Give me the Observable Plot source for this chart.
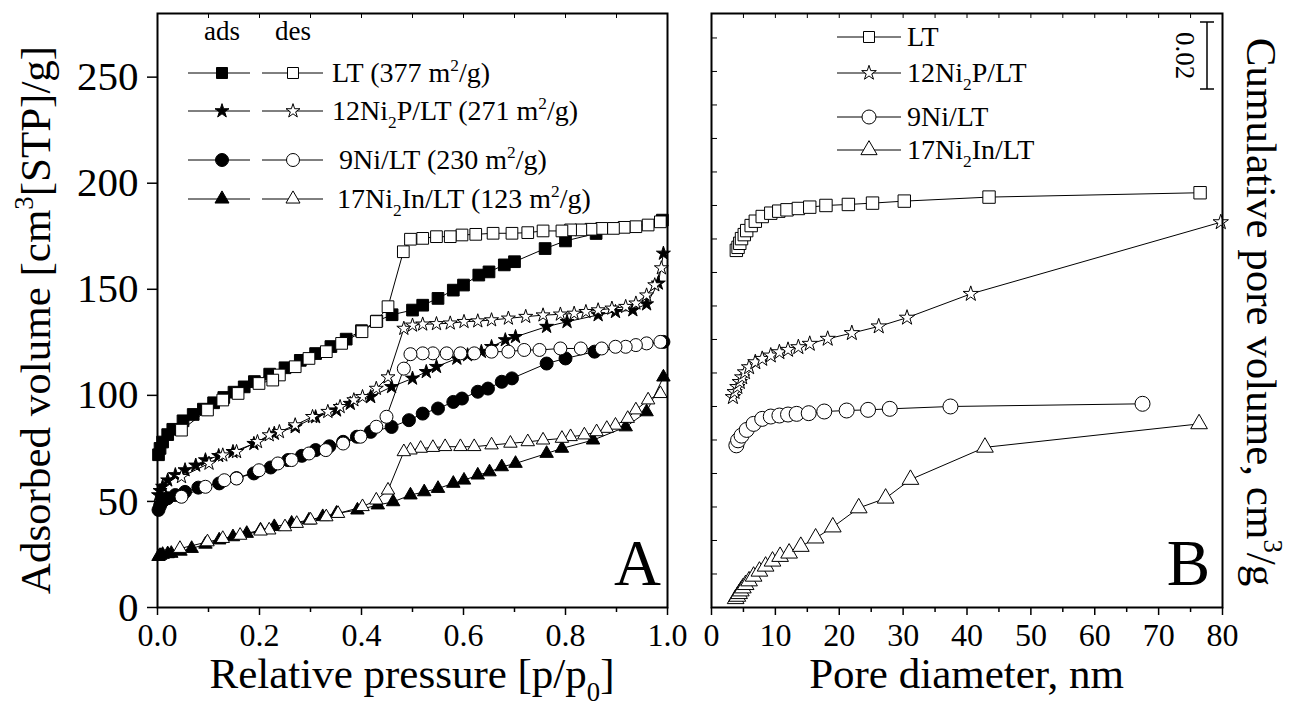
<!DOCTYPE html>
<html><head><meta charset="utf-8">
<script src="https://cdn.jsdelivr.net/npm/d3@7"></script>
<script src="https://cdn.jsdelivr.net/npm/@observablehq/plot@0.6"></script>
<style>
body{margin:0;background:#fff;}
#wrap{position:relative;width:1290px;height:706px;overflow:hidden;}
#wrap > svg{position:absolute;top:0;}
</style></head><body><div id="wrap"></div>
<script>
// ---------- Panel A: N2 isotherms (p/p0, cm3[STP]/g) ----------
const ltAdsP = [0.002,0.005,0.01,0.02,0.03,0.05,0.07,0.09,0.11,0.13,0.15,0.17,0.19,0.22,0.25,0.28,0.31,0.34,0.37,0.40,0.43,0.46,0.50,0.52,0.55,0.58,0.60,0.63,0.65,0.68,0.70,0.76,0.80,0.86,0.99];
const ltAdsV = [72,75,78,81.5,84,88,91,93.5,96.5,99,101.5,104,106.5,110,113,116.5,119.7,123,126.5,130.5,135,138,140.2,142.5,145.7,149.6,152,156.7,158.2,161.5,163,169.2,172.8,176.3,182.6];
const ltDesP = [0.986,0.962,0.938,0.915,0.894,0.871,0.850,0.830,0.810,0.793,0.756,0.726,0.695,0.658,0.624,0.597,0.574,0.547,0.520,0.496,0.482,0.452,0.429,0.401,0.361,0.331,0.297,0.270,0.239,0.226,0.199,0.158,0.128,0.098,0.047];
const ltDesV = [181.8,180.3,179.5,179.2,178.7,178.7,178.3,178,178,177.5,177.5,176.7,176.4,176.4,175.9,175.6,174.8,174.8,174,173.6,167.7,141.8,134.8,130,124.5,120.6,117.4,113.5,109.6,107.2,105.6,100.9,97.8,93.1,83.6];

const nipAdsP = [0.002,0.005,0.01,0.02,0.035,0.054,0.075,0.094,0.12,0.148,0.189,0.229,0.270,0.310,0.351,0.378,0.418,0.459,0.500,0.527,0.547,0.587,0.608,0.635,0.655,0.682,0.702,0.763,0.803,0.864,0.898,0.932,0.959,0.982,0.992];
const nipAdsV = [53,55,57,60,62.5,64.8,67,69.5,71.5,73.4,77.2,82,85.1,89.8,93,96.1,99.3,104,108,111.1,113.5,117.4,119,120.6,122.9,126.1,127.6,132.4,134.7,137.9,139.4,140.2,143,152.8,166.9];
const nipDesP = [0.988,0.975,0.959,0.938,0.918,0.891,0.864,0.840,0.817,0.790,0.756,0.722,0.688,0.655,0.628,0.601,0.574,0.547,0.520,0.500,0.483,0.452,0.429,0.402,0.385,0.358,0.334,0.304,0.270,0.239,0.219,0.196,0.155,0.128,0.101,0.047];
const nipDesV = [160,152,147.2,143.4,141.8,141,140.2,139.4,138.6,138.2,137.8,137.1,136.3,135.5,135,134.7,134,133.7,133.5,133,131.5,108.6,103.2,99.3,97.8,94.6,92.3,89.9,86,82.8,81.3,78.1,73.4,71.8,67.9,61.6];

const niAdsP = [0.002,0.005,0.01,0.02,0.035,0.054,0.08,0.121,0.155,0.189,0.222,0.256,0.283,0.310,0.337,0.364,0.391,0.418,0.459,0.493,0.520,0.550,0.580,0.597,0.628,0.648,0.675,0.695,0.763,0.800,0.857,0.992];
const niAdsV = [46,48,50,51.5,53,54.5,56.5,58.5,61,63.2,66,69.5,71.5,74.2,76,78.1,80.5,82.8,85.1,88.3,91.4,93.8,96.9,98.5,101.7,103.2,106.4,108,115,117.4,120.6,125.2];
const niDesP = [0.986,0.959,0.938,0.918,0.898,0.871,0.830,0.790,0.749,0.719,0.688,0.655,0.621,0.594,0.567,0.540,0.520,0.496,0.483,0.449,0.429,0.398,0.364,0.330,0.297,0.263,0.236,0.199,0.155,0.131,0.094,0.047];
const niDesV = [125.2,124.5,123.7,122.9,122.9,122.1,122.1,122.1,121.4,121.4,120.6,120.6,119.8,119.8,119.8,119.8,119.8,119.4,112.6,89.9,85.2,80.5,77.3,74.2,72.6,69.5,67.9,64.7,60.8,60,56.9,52.2];

const inAdsP = [0.002,0.005,0.01,0.02,0.027,0.045,0.067,0.094,0.121,0.148,0.175,0.202,0.229,0.263,0.297,0.324,0.351,0.392,0.432,0.462,0.496,0.523,0.550,0.580,0.601,0.628,0.651,0.675,0.702,0.763,0.793,0.854,0.918,0.959,0.992];
const inAdsV = [24,24.5,25,25.3,25.5,26.5,27.8,29.8,31.8,33.3,34.9,36.5,38.1,39.7,41.2,42.8,44.4,45.9,48.3,49.8,53,54.5,56.1,58.5,60,62.4,63.9,66.3,67.9,72.6,75,78.9,85.1,92.2,108.6];
const inDesP = [0.986,0.962,0.938,0.922,0.898,0.881,0.861,0.837,0.810,0.793,0.756,0.726,0.692,0.655,0.621,0.594,0.564,0.540,0.516,0.496,0.483,0.452,0.429,0.402,0.354,0.331,0.300,0.273,0.250,0.219,0.202,0.162,0.128,0.098,0.044];
const inDesV = [100.8,97.8,93.1,89.1,85.9,84.4,82.8,81.3,80.5,79.7,78.9,78.1,77.4,76.6,75.8,75.8,75.8,75.4,75,74.2,73.4,55.3,50.6,47.5,44.3,42.7,41.2,39.6,38,36.5,36,34,32.5,30.9,27.8];

// ---------- Panel B: cumulative pore volume (nm, cm3/g, curves offset) ----------
const ltPoreD = [3.89,4.16,4.43,4.70,5.13,5.51,6.21,6.86,7.94,9.28,10.53,11.82,13.60,15.38,17.92,21.43,25.21,30.18,43.45,76.49];
const ltPoreV = [0.1066,0.1075,0.1087,0.1101,0.1113,0.1125,0.1140,0.1153,0.1167,0.1177,0.1183,0.1187,0.1191,0.1195,0.1200,0.1203,0.1207,0.1213,0.1225,0.1238];
const nipPoreD = [3.35,3.62,4.05,4.43,4.80,5.24,5.88,6.86,7.94,9.28,10.63,11.98,13.60,15.38,18.19,21.97,26.18,30.61,40.59,79.73];
const nipPoreV = [0.0628,0.0643,0.0658,0.0673,0.0687,0.0702,0.0717,0.0732,0.0742,0.0752,0.0762,0.0769,0.0777,0.0787,0.0802,0.0819,0.0839,0.0865,0.0936,0.1150];
const niPoreD = [3.89,4.16,4.70,5.51,6.59,7.94,9.28,10.63,11.98,13.33,15.22,17.65,21.16,24.51,27.91,37.41,67.48];
const niPoreV = [0.0484,0.0499,0.0513,0.0530,0.0548,0.0563,0.0570,0.0573,0.0576,0.0578,0.0580,0.0585,0.0588,0.0590,0.0593,0.0600,0.0608];
const inPoreD = [3.78,4.05,4.32,4.59,4.91,5.34,5.88,6.59,7.50,8.47,9.55,10.74,12.15,13.98,16.30,18.99,23.05,27.26,31.15,42.81,76.33];
const inPoreV = [0.0026,0.0033,0.0041,0.0049,0.0058,0.0068,0.0079,0.0093,0.0108,0.0123,0.0138,0.0152,0.0162,0.0182,0.0207,0.0240,0.0297,0.0326,0.0382,0.0478,0.0548];

// ---------- ticks and labels ----------
const xTicksA = [0, 0.2, 0.4, 0.6, 0.8, 1.0];
const xMinorA = [0.1, 0.3, 0.5, 0.7, 0.9];
const yTicksA = [0, 50, 100, 150, 200, 250];
const xTicksB = [0, 10, 20, 30, 40, 50, 60, 70, 80];
const xMinorB = [5, 15, 25, 35, 45, 55, 65, 75];
const yTicksB = [0.01,0.02,0.03,0.04,0.05,0.06,0.07,0.08,0.09,0.10,0.11,0.12,0.13,0.14,0.15,0.16,0.17];
const scaleBarValue = 0.02;
const legendNamesA = ["LT (377 m^{2}/g)", "12Ni_{2}P/LT (271 m^{2}/g)", "9Ni/LT (230 m^{2}/g)", "17Ni_{2}In/LT (123 m^{2}/g)"];
const legendNamesB = ["LT", "12Ni_{2}P/LT", "9Ni/LT", "17Ni_{2}In/LT"];
const symbolsList = ["square", "star", "circle", "triangle"];
const titleXA = "Relative pressure [p/p_{0}]";
const titleYA = "Adsorbed volume [cm^{3}[STP]/g]";
const titleXB = "Pore diameter, nm";
const titleYB = "Cumulative pore volume, cm^{3}/g";

// ---------- build ----------
const FONT = "'Liberation Serif', 'Times New Roman', Tinos, serif";
const tbl = (xs, ys) => xs.map((x, i) => ({x, y: ys[i]}));
const rA = {square: 6.6, star: 4.4, circle: 6.5, triangle: 5.0};
const rB = {square: 7.0, star: 4.8, circle: 7.5, triangle: 6.2};

const isoA = [
  [ltAdsP, ltAdsV, ltDesP, ltDesV],
  [nipAdsP, nipAdsV, nipDesP, nipDesV],
  [niAdsP, niAdsV, niDesP, niDesV],
  [inAdsP, inAdsV, inDesP, inDesV]
];
const poreB = [[ltPoreD, ltPoreV], [nipPoreD, nipPoreV], [niPoreD, niPoreV], [inPoreD, inPoreV]];

const marksA = [];
isoA.forEach(([ap, av, dp, dv]) => {
  marksA.push(Plot.line(tbl(ap, av), {x: "x", y: "y", stroke: "black", strokeWidth: 1}));
  marksA.push(Plot.line(tbl(dp, dv), {x: "x", y: "y", stroke: "black", strokeWidth: 1}));
});
isoA.forEach(([ap, av], i) => {
  const s = symbolsList[i];
  marksA.push(Plot.dot(tbl(ap, av), {x: "x", y: "y", symbol: s, r: rA[s], fill: "black", stroke: "black", strokeWidth: 1}));
});
isoA.forEach(([ap, av, dp, dv], i) => {
  const s = symbolsList[i];
  marksA.push(Plot.dot(tbl(dp, dv), {x: "x", y: "y", symbol: s, r: rA[s], fill: "white", stroke: "black", strokeWidth: 1}));
});

const HA = 706, MT = 13, MB = 99;
const frameH = HA - MT - MB;

const plotA = Plot.plot({
  width: 690, height: HA,
  marginLeft: 157, marginRight: 23, marginTop: MT, marginBottom: MB,
  x: {domain: [0, 1]},
  y: {domain: [0, 280]},
  style: {fontFamily: FONT, background: "transparent", color: "black", overflow: "visible"},
  marks: [
    Plot.axisX({ticks: xTicksA, tickSize: 8, tickPadding: 8, tickFormat: d3.format(".1f"), fontSize: 32, label: null, strokeWidth: 1.5}),
    Plot.axisX({ticks: xMinorA, tickSize: 5, tickFormat: () => "", label: null, strokeWidth: 1.5}),
    Plot.axisY({ticks: yTicksA, tickSize: 10, tickPadding: 9, fontSize: 41, label: null, strokeWidth: 1.5}),
    Plot.tickX(xTicksA.concat(xMinorA), {x: d => d, insetBottom: frameH - 5, strokeWidth: 1}),
    ...marksA,
    Plot.frame({stroke: "black", strokeWidth: 2})
  ]
});

const marksB = [];
poreB.forEach(([d, v], i) => {
  const s = symbolsList[i];
  marksB.push(Plot.line(tbl(d, v), {x: "x", y: "y", stroke: "black", strokeWidth: 1}));
  marksB.push(Plot.dot(tbl(d, v), {x: "x", y: "y", symbol: s, r: rB[s], fill: "white", stroke: "black", strokeWidth: 1}));
});

const plotB = Plot.plot({
  width: 600, height: HA,
  marginLeft: 21, marginRight: 68, marginTop: MT, marginBottom: MB,
  x: {domain: [0, 80]},
  y: {domain: [0, 0.1773], axis: null},
  style: {fontFamily: FONT, background: "transparent", color: "black", overflow: "visible"},
  marks: [
    Plot.axisX({ticks: xTicksB, tickSize: 8, tickPadding: 8, tickFormat: d3.format("d"), fontSize: 32, label: null, strokeWidth: 1.5}),
    Plot.axisX({ticks: xMinorB, tickSize: 5, tickFormat: () => "", label: null, strokeWidth: 1.5}),
    Plot.tickX(xTicksB.concat(xMinorB), {x: d => d, insetBottom: frameH - 5, strokeWidth: 1}),
    Plot.tickY(yTicksB, {y: d => d, insetRight: 511 - 6, strokeWidth: 1}),
    ...marksB,
    Plot.frame({stroke: "black", strokeWidth: 2})
  ]
});

const wrap = document.getElementById("wrap");
plotA.style.left = "0px";
plotB.style.left = "690px";
wrap.appendChild(plotA);
wrap.appendChild(plotB);

// ---------- overlay: titles, legends, panel letters, scale bar ----------
const sxA = plotA.scale("x");
const sxB = plotB.scale("x"), syB = plotB.scale("y");
const OB = 690;

const ov = d3.create("svg").attr("width", 1290).attr("height", 706)
  .style("left", "0px").style("font-family", FONT).style("pointer-events", "none");

function rich(t, str, fs) {
  const re = /([_^])\{([^}]*)\}/g;
  let last = 0, m, pend = 0;
  const put = (txt) => { const ts = t.append("tspan").text(txt); if (pend) { ts.attr("dy", pend); pend = 0; } };
  while ((m = re.exec(str))) {
    if (m.index > last) put(str.slice(last, m.index));
    const sh = m[1] === "_" ? fs * 0.30 : -fs * 0.40;
    t.append("tspan").attr("dy", sh + pend).attr("font-size", fs * 0.62).text(m[2]);
    pend = -sh;
    last = re.lastIndex;
  }
  if (last < str.length) put(str.slice(last));
}
function text(x, y, str, fs, anchor, rot) {
  const t = ov.append("text").attr("font-size", fs).attr("text-anchor", anchor || "start").attr("fill", "black");
  if (rot) t.attr("transform", `translate(${x},${y}) rotate(${rot})`);
  else t.attr("x", x).attr("y", y);
  rich(t, str, fs);
  return t;
}
function sym(x, y, s, r, fill) {
  if (s === "circle") {
    ov.append("circle").attr("cx", x).attr("cy", y).attr("r", r).attr("fill", fill).attr("stroke", "black");
  } else {
    const map = {square: d3.symbolSquare, star: d3.symbolStar, triangle: d3.symbolTriangle};
    ov.append("path").attr("transform", `translate(${x},${y})`)
      .attr("d", d3.symbol(map[s], Math.PI * r * r)()).attr("fill", fill).attr("stroke", "black");
  }
}
function seg(x1, x2, y) {
  ov.append("line").attr("x1", x1).attr("x2", x2).attr("y1", y).attr("y2", y).attr("stroke", "black").attr("stroke-width", 1);
}

const [ax0, ax1] = sxA.range, [bx0, bx1] = sxB.range;
text((ax0 + ax1) / 2, 688, titleXA, 43, "middle");
text(OB + (bx0 + bx1) / 2, 688, titleXB, 43, "middle");
text(50, 320, titleYA, 43, "middle", -90);
text(1247, 312, titleYB, 43, "middle", 90);
text(ax1 - 6, 585, "A", 65, "end");
text(OB + bx1 - 12, 585, "B", 65, "end");

// legend A
text(222, 40, "ads", 27, "middle");
text(293, 40, "des", 27, "middle");
const rowYA = [73, 111, 160, 199];
const txA = [332, 332, 339, 337];
const rLegA = {square: 6.2, star: 4.4, circle: 6.5, triangle: 5.2};
legendNamesA.forEach((nm, i) => {
  const y = rowYA[i], s = symbolsList[i];
  seg(188, 250, y); seg(262, 323, y);
  sym(222, y, s, rLegA[s], "black");
  sym(293, y, s, rLegA[s], "white");
  text(txA[i], y + 9, nm, 28, "start");
});

// legend B
const rowYB = [37, 73, 117, 150];
const rLegB = {square: 6.2, star: 4.6, circle: 7.0, triangle: 6.0};
legendNamesB.forEach((nm, i) => {
  const y = rowYB[i], s = symbolsList[i];
  seg(837, 901, y);
  sym(869, y, s, rLegB[s], "white");
  text(907, y + 9, nm, 28, "start");
});

// scale bar (0.02 on the panel B y scale)
const barLen = syB.apply(0) - syB.apply(scaleBarValue);
const bx = 1207, by0 = 22, by1 = by0 + barLen;
ov.append("line").attr("x1", bx).attr("x2", bx).attr("y1", by0).attr("y2", by1).attr("stroke", "black").attr("stroke-width", 1.5);
ov.append("line").attr("x1", bx - 7).attr("x2", bx + 7).attr("y1", by0).attr("y2", by0).attr("stroke", "black").attr("stroke-width", 1.5);
ov.append("line").attr("x1", bx - 7).attr("x2", bx + 7).attr("y1", by1).attr("y2", by1).attr("stroke", "black").attr("stroke-width", 1.5);
text(1176, (by0 + by1) / 2, String(scaleBarValue), 27, "middle", 90);

wrap.appendChild(ov.node());
</script></body></html>
